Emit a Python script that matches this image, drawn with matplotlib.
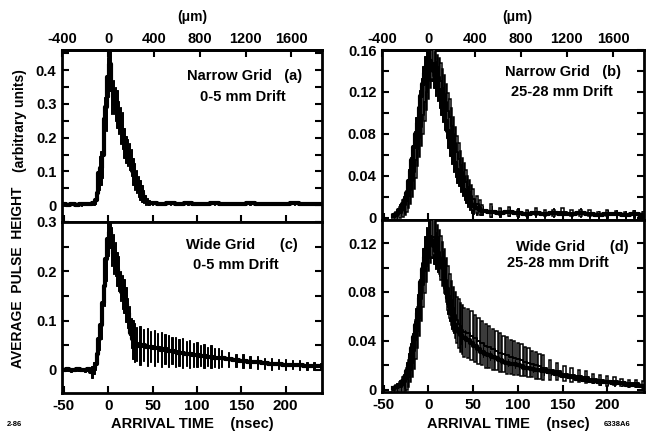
import numpy as np
import matplotlib
matplotlib.use('Agg')
import matplotlib.pyplot as plt
from matplotlib.ticker import MultipleLocator, FuncFormatter

plt.rcParams['font.family'] = ['Liberation Sans', 'DejaVu Sans']
plt.rcParams['font.weight'] = 'bold'
plt.rcParams['axes.unicode_minus'] = False

# ---------------- data (arrival time in nsec, pulse height in arb. units) ----------------
# (a) narrow grid, 0-5 mm drift
t_a = [-50, -45, -40, -35, -30, -25, -20, -16,
       -14, -12, -10, -8, -6, -4, -2, 0, 2, 4, 6, 8, 10, 12, 14, 16, 18, 20, 22, 24,
       26, 28, 30, 32, 34, 36, 38, 40, 42, 44, 46,
       50, 60, 70, 80, 90, 100, 110, 120, 130, 140, 150, 160, 170, 180, 190, 200,
       210, 220, 230, 240]
y_a = [0.002, 0.000, 0.003, 0.001, 0.002, 0.004, 0.003, 0.006,
       0.015, 0.035, 0.095, 0.11, 0.15, 0.255, 0.29, 0.38, 0.42, 0.34, 0.32, 0.30, 0.285,
       0.26, 0.235, 0.22, 0.185, 0.165, 0.155, 0.145,
       0.125, 0.10, 0.085, 0.07, 0.055, 0.045, 0.035, 0.025, 0.016, 0.010, 0.007,
       0.006, 0.004, 0.005, 0.003, 0.005, 0.004, 0.003, 0.005, 0.004, 0.003, 0.004, 0.005,
       0.003, 0.004, 0.003, 0.004, 0.005, 0.003, 0.004, 0.003]
e_a = [0.004, 0.004, 0.004, 0.004, 0.004, 0.004, 0.004, 0.005,
       0.012, 0.02, 0.05, 0.05, 0.07, 0.065, 0.07, 0.06, 0.04, 0.07, 0.05, 0.05, 0.055,
       0.05, 0.055, 0.055, 0.045, 0.04, 0.04, 0.04,
       0.04, 0.04, 0.04, 0.035, 0.03, 0.03, 0.025, 0.02, 0.015, 0.01, 0.008,
       0.005, 0.004, 0.005, 0.004, 0.005, 0.004, 0.004, 0.005, 0.004, 0.004, 0.004, 0.005,
       0.004, 0.004, 0.004, 0.004, 0.005, 0.004, 0.004, 0.004]

# (b) narrow grid, 25-28 mm drift: two overlaid runs
t_b = [-40, -36, -32, -28, -26, -24, -22, -20, -18, -16, -14, -12, -10, -8, -6, -4, -2,
       0, 2, 4, 6, 8, 10, 12, 14, 16, 18, 20, 22, 24, 26, 28, 30, 32, 34, 36, 38, 40,
       42, 44, 46, 48, 50, 54, 58,
       60, 70, 80, 90, 100, 110, 120, 130, 140, 150, 160, 170, 180, 190, 200, 210, 220,
       230, 240]
y_b1 = [0.002, 0.004, 0.008, 0.013, 0.017, 0.024, 0.035, 0.045, 0.055, 0.068, 0.08,
        0.09, 0.105, 0.116, 0.128, 0.138, 0.146, 0.152, 0.15, 0.145, 0.14, 0.133, 0.128,
        0.122, 0.115, 0.108, 0.10, 0.092, 0.083, 0.074, 0.066, 0.058, 0.052, 0.046, 0.042,
        0.037, 0.032, 0.027, 0.023, 0.019, 0.016, 0.013, 0.011, 0.009, 0.008,
        0.007, 0.006, 0.005, 0.006, 0.005, 0.004, 0.005, 0.004, 0.005, 0.004, 0.004,
        0.005, 0.004, 0.003, 0.004, 0.004, 0.003, 0.004, 0.003]
e_b1 = [0.003, 0.004, 0.005, 0.008, 0.009, 0.01, 0.012, 0.013, 0.014, 0.015, 0.016,
        0.016, 0.017, 0.017, 0.017, 0.016, 0.015, 0.013, 0.013, 0.015, 0.016, 0.017, 0.017,
        0.017, 0.017, 0.017, 0.016, 0.016, 0.016, 0.015, 0.015, 0.014, 0.013, 0.013, 0.012,
        0.012, 0.011, 0.01, 0.009, 0.009, 0.008, 0.008, 0.007, 0.006, 0.005,
        0.004, 0.005, 0.004, 0.004, 0.004, 0.004, 0.004, 0.004, 0.004, 0.004, 0.004,
        0.004, 0.004, 0.004, 0.004, 0.004, 0.004, 0.004, 0.004]
y_b2 = [0.001, 0.002, 0.005, 0.009, 0.012, 0.016, 0.021, 0.027, 0.035, 0.044, 0.055,
        0.066, 0.076, 0.087, 0.098, 0.11, 0.12, 0.13, 0.14, 0.146, 0.148, 0.143, 0.138,
        0.134, 0.13, 0.124, 0.118, 0.11, 0.102, 0.096, 0.088, 0.08, 0.071, 0.063, 0.056,
        0.05, 0.044, 0.04, 0.034, 0.029, 0.025, 0.021, 0.018, 0.013, 0.010,
        0.008, 0.007, 0.006, 0.006, 0.005, 0.005, 0.006, 0.005, 0.005, 0.006, 0.005,
        0.005, 0.005, 0.004, 0.005, 0.005, 0.004, 0.005, 0.004]
e_b2 = [0.003, 0.004, 0.005, 0.008, 0.009, 0.01, 0.012, 0.014, 0.015, 0.016, 0.017,
        0.017, 0.018, 0.018, 0.018, 0.018, 0.017, 0.017, 0.016, 0.014, 0.013, 0.015, 0.017,
        0.018, 0.018, 0.018, 0.018, 0.018, 0.017, 0.017, 0.017, 0.016, 0.016, 0.015, 0.015,
        0.014, 0.013, 0.012, 0.012, 0.011, 0.011, 0.01, 0.01, 0.008, 0.007,
        0.004, 0.006, 0.003, 0.004, 0.003, 0.003, 0.003, 0.003, 0.003, 0.003, 0.003,
        0.003, 0.003, 0.002, 0.003, 0.002, 0.002, 0.002, 0.002]

# (c) wide grid, 0-5 mm drift
t_c = [-50, -46, -42, -38, -34, -30, -26, -22, -18,
       -16, -14, -12, -10, -8, -6, -4, -2, 0, 2, 4, 6, 8, 10, 12, 14, 16, 18, 20, 22,
       24, 26, 28, 30,
       32, 36, 40, 44, 48, 52, 56, 60, 64, 68, 72, 76, 80, 84, 88, 92, 96, 100, 104,
       108, 112, 116, 120, 124, 128,
       136, 144, 152, 160, 168, 176, 184, 192, 200, 208, 216, 224, 232, 240]
y_c = [0.000, 0.001, -0.001, 0.000, 0.001, 0.000, -0.001, 0.002, -0.004,
       0.004, 0.012, 0.033, 0.062, 0.09, 0.135, 0.17, 0.225, 0.265, 0.28, 0.25, 0.235,
       0.225, 0.205, 0.195, 0.17, 0.158, 0.15, 0.133, 0.115, 0.10, 0.075, 0.062, 0.055,
       0.052, 0.049, 0.050, 0.046, 0.047, 0.044, 0.045, 0.041, 0.042, 0.038, 0.039, 0.036,
       0.035, 0.034, 0.033, 0.032, 0.030, 0.031, 0.029, 0.028, 0.027, 0.027, 0.025,
       0.024, 0.023,
       0.021, 0.019, 0.018, 0.016, 0.015, 0.013, 0.012, 0.012, 0.010, 0.010, 0.009,
       0.008, 0.008, 0.007]
e_c = [0.003, 0.003, 0.003, 0.003, 0.003, 0.003, 0.003, 0.004, 0.012,
       0.012, 0.012, 0.017, 0.022, 0.027, 0.035, 0.04, 0.045, 0.035, 0.025, 0.04, 0.04,
       0.035, 0.035, 0.035, 0.03, 0.035, 0.035, 0.035, 0.03, 0.03, 0.03, 0.04, 0.04,
       0.035, 0.04, 0.033, 0.038, 0.032, 0.036, 0.03, 0.035, 0.03, 0.033, 0.028, 0.03,
       0.027, 0.03, 0.025, 0.028, 0.024, 0.026, 0.022, 0.025, 0.02, 0.023, 0.019,
       0.02, 0.018,
       0.016, 0.014, 0.015, 0.012, 0.013, 0.011, 0.012, 0.010, 0.011, 0.009, 0.010,
       0.008, 0.008, 0.007]

# (d) wide grid, 25-28 mm drift: two overlaid runs
t_d = [-40, -36, -32, -28, -26, -24, -22, -20, -18, -16, -14, -12, -10, -8, -6, -4, -2,
       0, 2, 4, 6, 8, 10, 12, 14, 16, 18, 20, 22, 24, 26, 28, 30, 32, 34, 36, 38, 40,
       44, 48, 52, 56, 60, 64, 68, 72, 76, 80, 84, 88, 92, 96, 100, 104, 108, 112, 116,
       120, 124, 128,
       136, 144, 152, 160, 168, 176, 184, 192, 200, 208, 216, 224, 232, 240]
y_d1 = [0.001, 0.002, 0.004, 0.007, 0.01, 0.015, 0.02, 0.027, 0.034, 0.043, 0.053,
        0.063, 0.075, 0.088, 0.099, 0.109, 0.117, 0.123, 0.125, 0.122, 0.118, 0.114,
        0.111, 0.108, 0.106, 0.10, 0.092, 0.083, 0.075, 0.068, 0.062, 0.057, 0.053,
        0.050, 0.047, 0.045, 0.043, 0.042,
        0.041, 0.038, 0.036, 0.033, 0.031, 0.029, 0.028, 0.027, 0.026, 0.024, 0.023,
        0.022, 0.021, 0.021, 0.020, 0.019, 0.018, 0.018, 0.017, 0.016, 0.016, 0.015,
        0.014, 0.013, 0.011, 0.010, 0.009, 0.008, 0.007, 0.006, 0.006, 0.005, 0.005,
        0.004, 0.004, 0.003]
e_d1 = [0.002, 0.003, 0.004, 0.006, 0.007, 0.008, 0.01, 0.011, 0.012, 0.013, 0.014,
        0.015, 0.016, 0.016, 0.017, 0.017, 0.016, 0.015, 0.014, 0.014, 0.015, 0.015,
        0.015, 0.015, 0.014, 0.014, 0.014, 0.013, 0.013, 0.012, 0.012, 0.011, 0.011,
        0.01, 0.009, 0.008, 0.008, 0.007,
        0.006, 0.005, 0.005, 0.005, 0.004, 0.004, 0.004, 0.004, 0.004, 0.003, 0.003,
        0.003, 0.003, 0.003, 0.003, 0.003, 0.003, 0.003, 0.003, 0.003, 0.003, 0.003,
        0.002, 0.002, 0.002, 0.002, 0.002, 0.002, 0.002, 0.002, 0.002, 0.002, 0.002,
        0.002, 0.002, 0.002]
y_d2 = [0.000, 0.001, 0.002, 0.004, 0.006, 0.009, 0.013, 0.018, 0.024, 0.032, 0.041,
        0.051, 0.062, 0.074, 0.086, 0.097, 0.106, 0.114, 0.12, 0.124, 0.125, 0.122,
        0.118, 0.113, 0.108, 0.103, 0.097, 0.09, 0.083, 0.077, 0.071, 0.066, 0.061,
        0.057, 0.054, 0.051, 0.049, 0.047,
        0.046, 0.044, 0.042, 0.040, 0.038, 0.036, 0.035, 0.033, 0.032, 0.030, 0.029,
        0.028, 0.027, 0.026, 0.025, 0.024, 0.023, 0.022, 0.021, 0.020, 0.019, 0.018,
        0.016, 0.015, 0.013, 0.012, 0.011, 0.010, 0.009, 0.008, 0.007, 0.007, 0.006,
        0.005, 0.005, 0.004]
e_d2 = [0.002, 0.003, 0.004, 0.006, 0.007, 0.009, 0.011, 0.012, 0.014, 0.015, 0.016,
        0.017, 0.018, 0.018, 0.018, 0.018, 0.018, 0.017, 0.016, 0.015, 0.015, 0.016,
        0.017, 0.018, 0.018, 0.018, 0.018, 0.018, 0.018, 0.018, 0.018, 0.018, 0.019,
        0.019, 0.02, 0.02, 0.02, 0.02,
        0.02, 0.02, 0.019, 0.019, 0.018, 0.018, 0.017, 0.017, 0.016, 0.016, 0.015,
        0.015, 0.014, 0.014, 0.013, 0.013, 0.012, 0.012, 0.011, 0.011, 0.01, 0.01,
        0.008, 0.007, 0.006, 0.006, 0.005, 0.005, 0.004, 0.004, 0.004, 0.003, 0.003,
        0.003, 0.003, 0.003]

um_ticks = [-400, 0, 400, 800, 1200, 1600]
um_per_ns = 7.75


def draw_run(ax, t, y, e, face):
	t = np.asarray(t, float); y = np.asarray(y); e = np.asarray(e)
	if face == 'black':
		w = np.minimum(np.gradient(t) * 0.8, 1.5)
		ax.bar(t, 2 * e, bottom=y - e, width=w, color='black', edgecolor='black', linewidth=0.7, zorder=3)
		ax.plot(t, y, color='black', lw=3.0, drawstyle='steps-mid', zorder=4)
	else:
		w = np.minimum(np.gradient(t) * 0.75, 2.6)
		ax.bar(t, 2 * e, bottom=y - e, width=w, color='white', edgecolor='black', linewidth=1.1, zorder=3)
		ax.plot(t, y, color='black', lw=1.4, drawstyle='steps-mid', zorder=4)


def style(ax, ylim, major, minor, top_panel):
	ax.set_xlim(-52, 241)
	ax.set_ylim(*ylim)
	ax.xaxis.set_major_locator(MultipleLocator(50))
	ax.yaxis.set_major_locator(MultipleLocator(major))
	ax.yaxis.set_minor_locator(MultipleLocator(minor))
	ax.yaxis.set_major_formatter(FuncFormatter(lambda v, p: '0' if abs(v) < 1e-9 else '%g' % v))
	ax.tick_params(which='both', direction='in', left=True, right=True, top=False,
				   width=1.5, length=5, labelsize=10.5, pad=4)
	ax.tick_params(axis='x', labelsize=11)
	for s in ax.spines.values():
		s.set_linewidth(2)
	if top_panel:
		ax.tick_params(labelbottom=False)
		sec = ax.secondary_xaxis('top', functions=(lambda x: x * um_per_ns, lambda x: x / um_per_ns))
		sec.set_xticks(um_ticks)
		sec.tick_params(direction='in', width=1.5, length=5, labelsize=10.5, pad=3)
		sec.spines['top'].set_linewidth(2)


fig = plt.figure(figsize=(6.47, 4.33), dpi=100)
ax_a = fig.add_axes([0.0958, 0.4873, 0.4019, 0.3972])
ax_c = fig.add_axes([0.0958, 0.0924, 0.4019, 0.3949])
ax_b = fig.add_axes([0.5904, 0.4919, 0.4049, 0.3926])
ax_d = fig.add_axes([0.5904, 0.0947, 0.4049, 0.3972])

draw_run(ax_a, t_a, y_a, e_a, 'black')
draw_run(ax_c, t_c, y_c, e_c, 'black')
draw_run(ax_b, t_b, y_b1, e_b1, 'black')
draw_run(ax_b, t_b, y_b2, e_b2, 'white')
draw_run(ax_d, t_d, y_d1, e_d1, 'black')
draw_run(ax_d, t_d, y_d2, e_d2, 'white')

style(ax_a, (-0.05, 0.46), 0.1, 0.05, True)
style(ax_c, (-0.047, 0.3), 0.1, 0.05, False)
style(ax_b, (-0.002, 0.16), 0.04, 0.02, True)
style(ax_d, (-0.002, 0.139), 0.04, 0.02, False)


def ftxt(x, y, s, **kw):
	kw.setdefault('ha', 'center')
	kw.setdefault('va', 'center')
	fig.text(x / 647, 1 - y / 433, s, **kw)


ftxt(192, 17, '(\u03bcm)', fontsize=10)
ftxt(517, 17, '(\u03bcm)', fontsize=10)
ftxt(245, 76, 'Narrow Grid   (a)', fontsize=10.5)
ftxt(243, 97, '0-5 mm Drift', fontsize=10.5)
ftxt(563, 72, 'Narrow Grid   (b)', fontsize=10.5)
ftxt(562, 92, '25-28 mm Drift', fontsize=10.5)
ftxt(242, 245, 'Wide Grid      (c)', fontsize=10.5)
ftxt(236, 265, '0-5 mm Drift', fontsize=10.5)
ftxt(572, 247, 'Wide Grid      (d)', fontsize=10.5)
ftxt(558, 263, '25-28 mm Drift', fontsize=10.5)
ftxt(18, 277, 'AVERAGE  PULSE  HEIGHT', fontsize=10, rotation=90)
ftxt(20, 121, '(arbitrary units)', fontsize=10, rotation=90)
ftxt(192, 424, 'ARRIVAL TIME    (nsec)', fontsize=10.5)
ftxt(508, 424, 'ARRIVAL TIME    (nsec)', fontsize=10.5)
ftxt(14, 425, '2-86', fontsize=5.5)
ftxt(617, 425, '6338A6', fontsize=5.5)

fig.savefig('out.png', dpi=100)
